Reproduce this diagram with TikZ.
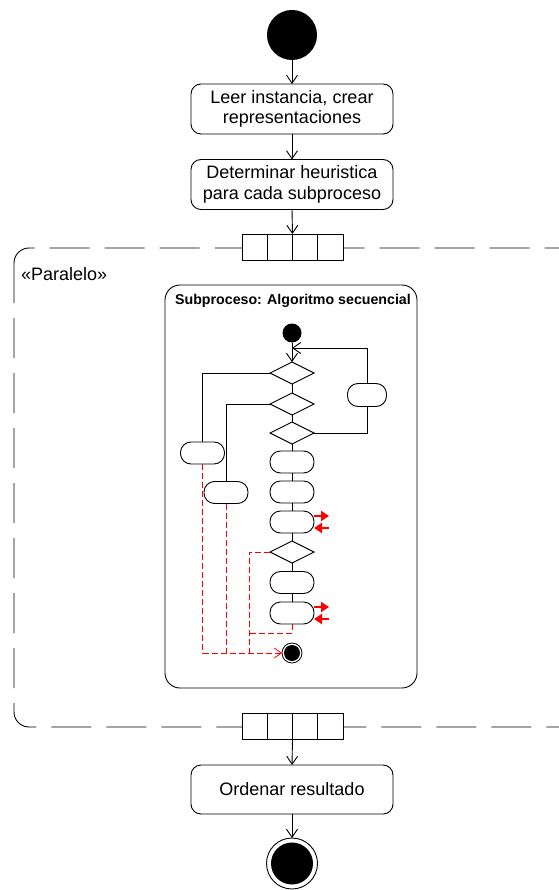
\documentclass[tikz,border=0pt]{standalone}
\usepackage{fontspec}
\setmainfont{Liberation Sans}
\usetikzlibrary{arrows.meta,shapes.geometric,calc}

\begin{document}
\begin{tikzpicture}[x=1pt,y=-1pt,
  every node/.style={inner sep=0pt, outer sep=0pt},
  flow/.style={line width=0.9pt, -{Straight Barb[length=8pt,width=11pt,line width=0.9pt]}},
  link/.style={line width=0.9pt},
  action/.style={draw, line width=0.9pt, rounded corners=10pt, minimum width=202pt,
    minimum height=50pt, align=center, font=\fontsize{18}{20.5}\selectfont},
  minor/.style={draw, line width=0.9pt, rounded corners=10.5pt, minimum width=44pt, minimum height=22pt},
  choice/.style={draw, diamond, aspect=2, line width=0.9pt, minimum width=44pt, minimum height=22pt},
  pinbar/.style={draw, fill=white, line width=0.9pt, minimum width=101pt, minimum height=26pt},
  reddash/.style={red, line width=0.8pt, dash pattern=on 6pt off 3pt},
  redarr/.style={red, line width=2.4pt, -{Triangle[length=8pt,width=10pt]}},
]
\useasboundingbox (0,0) rectangle (558,890);

% expansion region (parallel)
\draw[line width=0.9pt, dash pattern=on 40pt off 15pt, rounded corners=15pt] (14,248) rectangle (580,727);
\node[anchor=west, font=\fontsize{18}{20}\selectfont] (par) at (21,274) {«Paralelo»};

% main flow
\node[circle, fill=black, minimum size=50pt] (start) at (292,35) {};
\node[action] (act1) at (292,109) {Leer instancia, crear\\representaciones};
\node[action] (act2) at (292,184.5) {Determinar heuristica\\para cada subproceso};
\node[pinbar] (fork) at (292.5,247) {};
\node[pinbar] (join) at (292.5,726) {};
\foreach \b in {fork,join}
  \foreach \f in {0.25,0.5,0.75}
    \draw[line width=0.9pt] ($(\b.north west)!\f!(\b.north east)$) -- ($(\b.south west)!\f!(\b.south east)$);
\node[action, minimum height=49pt] (act3) at (292,789.5) {Ordenar resultado};
\node[circle, draw, line width=0.9pt, minimum size=51pt] (finish) at (292,863.5) {};
\node[circle, fill=black, minimum size=42pt] (finishdot) at (finish) {};

\draw[flow] (start.south) -- (act1.north);
\draw[flow] (act1.south) -- (act2.north);
\draw[flow] (act2.south) -- (fork.north);
\draw[flow] (join.south) -- (act3.north);
\draw[flow] (act3.south) -- (finish.north);

% nested activity
\node[draw, line width=0.9pt, rounded corners=15pt, minimum width=252pt, minimum height=403pt] (sub) at (291,486.5) {};
\node[font=\bfseries\fontsize{14.2}{16}\selectfont] (subtitle) at (293,301) {Subproceso: Algoritmo secuencial};

\node[circle, fill=black, minimum size=19pt] (s0) at (292,333) {};
\node[choice] (d1) at (292,373) {};
\node[choice] (d2) at (292,404) {};
\node[choice] (d3) at (292,433) {};
\node[minor] (a1) at (292,462) {};
\node[minor] (a2) at (292,492) {};
\node[minor] (a3) at (292,522) {};
\node[choice] (d4) at (292,552) {};
\node[minor] (a4) at (292,582.5) {};
\node[minor] (a5) at (292,613) {};
\node[minor] (l1) at (202.5,453) {};
\node[minor] (l2) at (226,492.5) {};
\node[minor, minimum width=39pt, minimum height=23pt] (lp) at (367,395) {};
\node[circle, draw, line width=0.8pt, minimum size=20pt] (e0) at (292,653) {};
\node[circle, fill=black, minimum size=16pt] (e0dot) at (e0) {};

\coordinate (merge) at (292,348);
\draw[flow] (s0.south) -- (d1.north);
\draw[flow] (lp.north) |- (merge);
\draw[link] (d1.south) -- (d2.north);
\draw[link] (d2.south) -- (d3.north);
\draw[link] (d3.south) -- (a1.north);
\draw[link] (a1.south) -- (a2.north);
\draw[link] (a2.south) -- (a3.north);
\draw[link] (a3.south) -- (d4.north);
\draw[link] (d4.south) -- (a4.north);
\draw[link] (a4.south) -- (a5.north);
\draw[link] (d1.west) -| (l1.north);
\draw[link] (d2.west) -| (l2.north);
\draw[link] (d3.east) -| (lp.south);

% exception / interrupt flows
\coordinate (rj) at (249,653);
\coordinate (ej) at (249,633);
\draw[reddash, -{Straight Barb[length=7pt,width=10pt,line width=0.8pt]}] (l1.south) |- (e0.west);
\draw[reddash] (l2.south) -- (l2.south |- e0.west);
\draw[reddash] (d4.west) -| (rj);
\draw[reddash] (a5.south) |- (ej);

% signal send / receive marks
\coordinate (a3out) at (329,516);
\coordinate (a3in) at (329,528);
\coordinate (a5out) at (329,607);
\coordinate (a5in) at (329,619);
\draw[redarr] (a3.east |- a3out) -- (a3out);
\draw[redarr] (a3in) -- (a3.east |- a3in);
\draw[redarr] (a5.east |- a5out) -- (a5out);
\draw[redarr] (a5in) -- (a5.east |- a5in);
\end{tikzpicture}
\end{document}
